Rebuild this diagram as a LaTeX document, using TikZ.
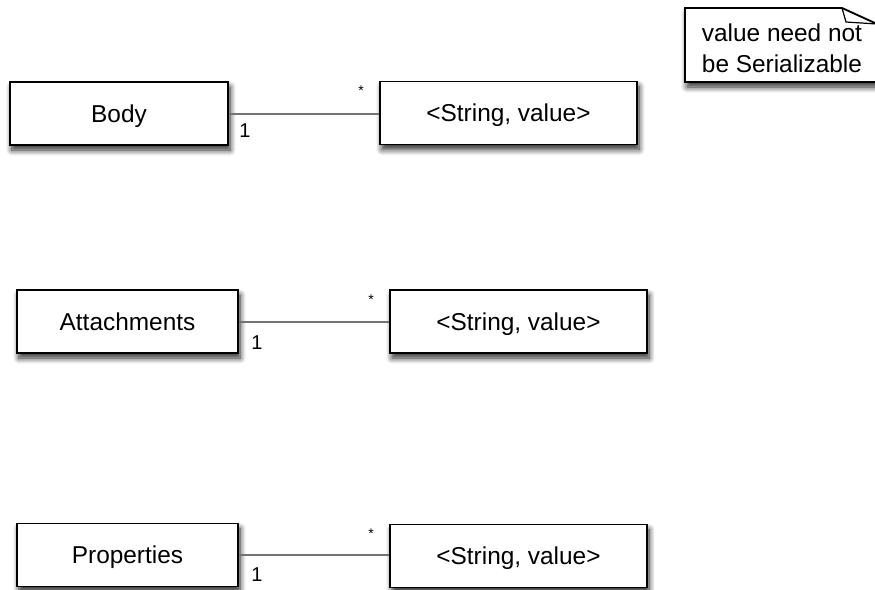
\documentclass[tikz,border=0pt]{standalone}
\usepackage{fontspec}
\setmainfont{Liberation Sans}
\usetikzlibrary{shadows,shadows.blur,positioning}

\begin{document}
\begin{tikzpicture}[x=0.5pt, y=-0.5pt,
   boxshadow/.style={blur shadow={shadow xshift=1pt, shadow yshift=-2.5pt,
      shadow blur radius=3pt, shadow blur steps=8, shadow opacity=85}},
   classbox/.style={draw, line width=0.9pt, fill=white, minimum height=31.5pt,
      text height=9.5pt, text depth=1pt, boxshadow, font=\fontsize{12.2}{14}\selectfont},
   mapbox/.style={classbox, minimum width=128.5pt},
   assoc/.style={draw=black!55, line width=1pt},
   mult/.style={font=\fontsize{10}{12}\selectfont, inner sep=2pt},
   star/.style={font=\fontsize{7}{8}\selectfont, inner sep=0pt}]
   \useasboundingbox (0,0) rectangle (875,590);

   \node[classbox, minimum width=109pt] (body) at (119,113.5) {Body};
   \node[mapbox] (bodymap) at (508.5,113) {<String, value>};

   \node[classbox, minimum width=110.5pt] (attach) at (127.5,321.5) {Attachments};
   \node[mapbox] (attachmap) at (518.5,321.5) {<String, value>};

   \node[classbox, minimum width=110.5pt] (props) at (127.5,555) {Properties};
   \node[mapbox] (propsmap) at (518.5,556) {<String, value>};

   \draw[assoc] (body.east) -- (bodymap.west |- body.east);
   \draw[assoc] (attach.east) -- (attachmap.west |- attach.east);
   \draw[assoc] (props.east) -- (propsmap.west |- props.east);

   \node[mult, below right=3pt and 3pt of body.east] {1};
   \node[mult, below right=5pt and 4pt of attach.east] {1};
   \node[mult, below right=4pt and 4pt of props.east] {1};
   \node[star] at ([xshift=-9pt, yshift=11pt]bodymap.west) {*};
   \node[star] at ([xshift=-9pt, yshift=11pt]attachmap.west) {*};
   \node[star] at ([xshift=-9pt, yshift=11pt]propsmap.west) {*};

   % note with folded corner
   \coordinate (notetl) at (685,8);
   \coordinate (notebr) at (877,82);
   \path[draw, line width=0.9pt, fill=white, boxshadow] (notetl)
      -- (842,8) -- (877,24) -- (notebr) -- (notetl |- notebr) -- cycle;
   \draw[line width=0.6pt] (842,8) -- (846,22) -- (877,24);
   \node[align=left, font=\fontsize{12.2}{15.5}\selectfont] (note) at (782,48)
      {value need not\\be Serializable};
\end{tikzpicture}
\end{document}
